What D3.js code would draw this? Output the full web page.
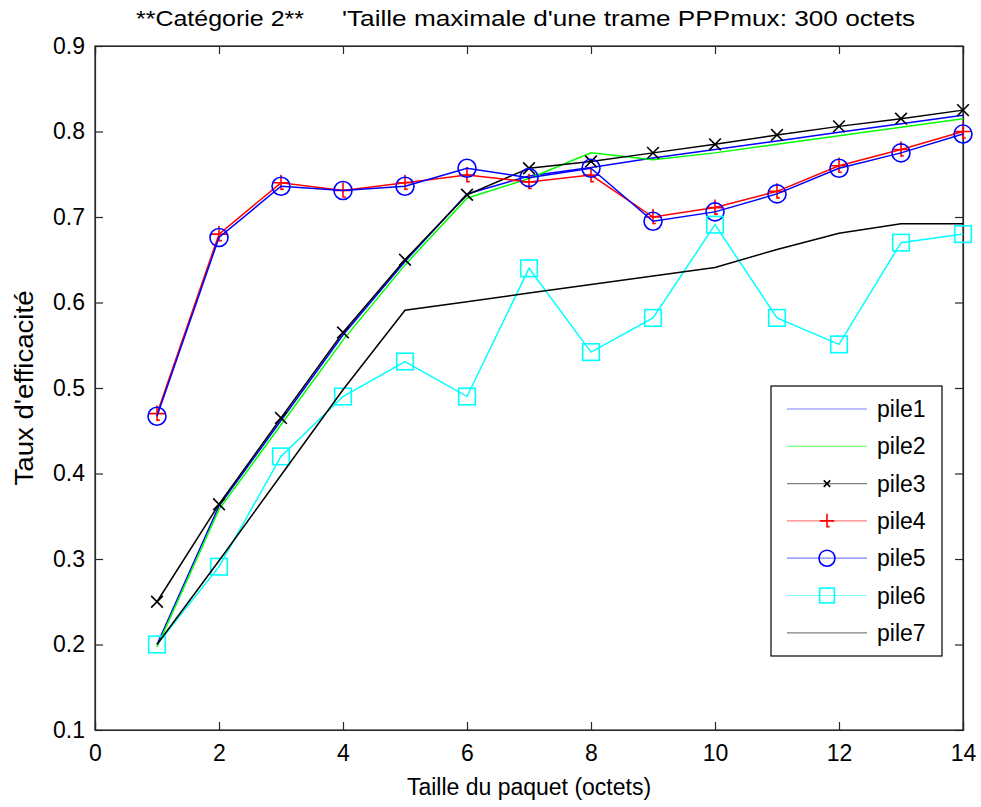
<!DOCTYPE html>
<html><head><meta charset="utf-8">
<script src="https://cdn.jsdelivr.net/npm/d3@7/dist/d3.min.js"></script>
<style>body{margin:0;background:#fff}svg{display:block}text{font-family:"Liberation Sans",Arial,sans-serif}</style>
</head><body><svg id="c" width="981" height="807"></svg>
<script>
const xs = [1,2,3,4,5,6,7,8,9,10,11,12,13,14];
const pile1 = [0.200,0.362,0.462,0.562,0.648,0.727,0.748,0.758,0.769,0.779,0.789,0.799,0.809,0.819];
const pile2 = [0.197,0.358,0.457,0.556,0.644,0.722,0.745,0.775,0.767,0.775,0.785,0.795,0.805,0.815];
const pile3 = [0.250,0.364,0.465,0.565,0.650,0.726,0.757,0.765,0.775,0.785,0.796,0.806,0.815,0.825];
const pile4 = [0.470,0.680,0.740,0.731,0.740,0.749,0.741,0.749,0.700,0.711,0.730,0.760,0.779,0.800];
const pile5 = [0.467,0.676,0.736,0.731,0.736,0.757,0.746,0.757,0.695,0.706,0.727,0.757,0.775,0.797];
const pile6 = [0.200,0.291,0.420,0.490,0.531,0.490,0.640,0.542,0.582,0.691,0.582,0.551,0.670,0.680];
const pile7 = [0.200,0.298,0.398,0.498,0.591,0.601,0.611,0.621,0.631,0.641,0.662,0.681,0.692,0.692];
const seriesNames = ["pile1","pile2","pile3","pile4","pile5","pile6","pile7"];
const xTicks = [0,2,4,6,8,10,12,14];
const yTicks = [0.1,0.2,0.3,0.4,0.5,0.6,0.7,0.8,0.9];
const titleParts = ["**Catégorie 2**", "'Taille maximale d'une trame PPPmux: 300 octets"];
const xLabel = "Taille du paquet (octets)";
const yLabel = "Taux d'efficacité";

const series = [
  {name:seriesNames[0], vals:pile1, color:"#0000ff", marker:null},
  {name:seriesNames[1], vals:pile2, color:"#00ff00", marker:null},
  {name:seriesNames[2], vals:pile3, color:"#000000", marker:"x"},
  {name:seriesNames[3], vals:pile4, color:"#ff0000", marker:"+"},
  {name:seriesNames[4], vals:pile5, color:"#0000ff", marker:"o"},
  {name:seriesNames[5], vals:pile6, color:"#00ffff", marker:"s"},
  {name:seriesNames[6], vals:pile7, color:"#000000", marker:null}
];

const L=95, R=963, T=46, B=730;
const x = d3.scaleLinear().domain([0,14]).range([L,R]);
const y = d3.scaleLinear().domain([0.1,0.9]).range([B,T]);
const svg = d3.select("#c");

// title
svg.append("text").attr("x",136).attr("y",26).attr("font-size",22)
  .attr("textLength",168).attr("lengthAdjust","spacingAndGlyphs").text(titleParts[0]);
svg.append("text").attr("x",342).attr("y",26).attr("font-size",22)
  .attr("textLength",573).attr("lengthAdjust","spacingAndGlyphs").text(titleParts[1]);

// axes with inward ticks
const tk = 8;
svg.append("rect").attr("x",L).attr("y",T).attr("width",R-L).attr("height",B-T)
  .attr("fill","none").attr("stroke","#262626").attr("stroke-width",1.2);
const gx = svg.append("g").attr("transform",`translate(0,${B})`)
  .call(d3.axisBottom(x).tickValues(xTicks).tickSize(-tk).tickFormat(d3.format("d")).tickPadding(15));
const gxt = svg.append("g").attr("transform",`translate(0,${T})`)
  .call(d3.axisTop(x).tickValues(xTicks).tickSize(-tk).tickFormat(""));
const gy = svg.append("g").attr("transform",`translate(${L},0)`)
  .call(d3.axisLeft(y).tickValues(yTicks).tickSize(-tk).tickFormat(d3.format(".1f")).tickPadding(10));
const gyr = svg.append("g").attr("transform",`translate(${R},0)`)
  .call(d3.axisRight(y).tickValues(yTicks).tickSize(-tk).tickFormat(""));
[gx,gxt,gy,gyr].forEach(g=>{
  g.select(".domain").attr("stroke","#262626").attr("stroke-width",1.2);
  g.selectAll(".tick line").attr("stroke","#262626").attr("stroke-width",1.2);
  g.selectAll(".tick text").attr("font-size",23).attr("fill","#000").attr("font-family","Liberation Sans, Arial, sans-serif");
});

svg.append("text").attr("x",(L+R)/2).attr("y",795).attr("text-anchor","middle").attr("font-size",23).text(xLabel);
svg.append("text").attr("transform",`translate(33,${(T+B)/2}) rotate(-90)`).attr("text-anchor","middle")
  .attr("font-size",26).attr("textLength",195).attr("lengthAdjust","spacingAndGlyphs").text(yLabel);

function drawMarker(g, m, cx, cy, color, s){
  if(m==="x"){
    const h=s*0.65;
    g.append("path").attr("d",`M${cx-h},${cy-h}L${cx+h},${cy+h}M${cx-h},${cy+h}L${cx+h},${cy-h}`).attr("stroke",color).attr("stroke-width",1.6).attr("fill","none");
  } else if(m==="+"){
    const h=s*0.9;
    g.append("path").attr("d",`M${cx-h},${cy}L${cx+h},${cy}M${cx},${cy-h}L${cx},${cy+h*0.8}L${cx+h*0.35},${cy+h*0.8}`).attr("stroke",color).attr("stroke-width",1.6).attr("fill","none");
  } else if(m==="o"){
    g.append("circle").attr("cx",cx).attr("cy",cy).attr("r",s).attr("stroke",color).attr("stroke-width",1.6).attr("fill","none");
  } else if(m==="s"){
    const h=s*0.92;
    g.append("rect").attr("x",cx-h).attr("y",cy-h).attr("width",2*h).attr("height",2*h).attr("stroke",color).attr("stroke-width",1.6).attr("fill","none");
  }
}

const line = d3.line().x((d,i)=>x(xs[i])).y(d=>y(d));
const plot = svg.append("g");
series.forEach(s=>{
  const g = plot.append("g");
  g.append("path").datum(s.vals).attr("d",line).attr("fill","none").attr("stroke",s.color).attr("stroke-width",1.5);
  if(s.marker) s.vals.forEach((v,i)=>drawMarker(g,s.marker,x(xs[i]),y(v),s.color,9));
});

// legend
const lg = svg.append("g");
const lx=771, ly=386, lw=171, lh=270;
lg.append("rect").attr("x",lx).attr("y",ly).attr("width",lw).attr("height",lh).attr("fill","#fff").attr("stroke","#000").attr("stroke-width",1.2);
series.forEach((s,i)=>{
  const cy = 409 + i*37.3;
  lg.append("line").attr("x1",787).attr("x2",867).attr("y1",cy).attr("y2",cy).attr("stroke",s.color).attr("stroke-width",1.2).attr("stroke-opacity",0.5);
  if(s.marker) drawMarker(lg,s.marker,827,cy,s.color,s.marker==="x"?5:8);
  lg.append("text").attr("x",877).attr("y",cy+8).attr("font-size",23).attr("fill","#000").text(s.name);
});
</script></body></html>
